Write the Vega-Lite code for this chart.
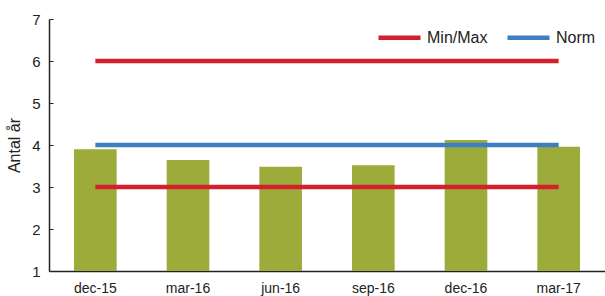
{
  "$schema": "https://vega.github.io/schema/vega-lite/v6.json",
  "width": 556,
  "height": 252,
  "autosize": {"type": "none"},
  "padding": {"left": 49, "top": 19, "right": 0, "bottom": 25},
  "background": "white",
  "config": {
    "font": "Liberation Sans",
    "view": {"stroke": null},
    "axis": {"labelFont": "Liberation Sans", "titleFont": "Liberation Sans", "labelColor": "#222", "titleColor": "#222", "domainColor": "#222", "tickColor": "#222"}
  },
  "datasets": {
    "bars": [
      {"period": "dec-15", "value": 3.9},
      {"period": "mar-16", "value": 3.64},
      {"period": "jun-16", "value": 3.48},
      {"period": "sep-16", "value": 3.52},
      {"period": "dec-16", "value": 4.12},
      {"period": "mar-17", "value": 3.96}
    ],
    "lines": [
      {"period": "dec-15", "value": 6, "series": "Min/Max", "line": "max"},
      {"period": "mar-16", "value": 6, "series": "Min/Max", "line": "max"},
      {"period": "jun-16", "value": 6, "series": "Min/Max", "line": "max"},
      {"period": "sep-16", "value": 6, "series": "Min/Max", "line": "max"},
      {"period": "dec-16", "value": 6, "series": "Min/Max", "line": "max"},
      {"period": "mar-17", "value": 6, "series": "Min/Max", "line": "max"},
      {"period": "dec-15", "value": 3, "series": "Min/Max", "line": "min"},
      {"period": "mar-16", "value": 3, "series": "Min/Max", "line": "min"},
      {"period": "jun-16", "value": 3, "series": "Min/Max", "line": "min"},
      {"period": "sep-16", "value": 3, "series": "Min/Max", "line": "min"},
      {"period": "dec-16", "value": 3, "series": "Min/Max", "line": "min"},
      {"period": "mar-17", "value": 3, "series": "Min/Max", "line": "min"},
      {"period": "dec-15", "value": 4, "series": "Norm", "line": "norm"},
      {"period": "mar-16", "value": 4, "series": "Norm", "line": "norm"},
      {"period": "jun-16", "value": 4, "series": "Norm", "line": "norm"},
      {"period": "sep-16", "value": 4, "series": "Norm", "line": "norm"},
      {"period": "dec-16", "value": 4, "series": "Norm", "line": "norm"},
      {"period": "mar-17", "value": 4, "series": "Norm", "line": "norm"}
    ]
  },
  "encoding": {
    "x": {
      "field": "period", "type": "nominal", "sort": null,
      "scale": {"domain": ["dec-15", "mar-16", "jun-16", "sep-16", "dec-16", "mar-17"], "paddingInner": 0.54, "paddingOuter": 0.27},
      "axis": {"title": null, "labelAngle": 0, "labelFontSize": 14, "ticks": false, "labelPadding": 10, "domainWidth": 1.5}
    },
    "y": {
      "field": "value", "type": "quantitative",
      "scale": {"domain": [1, 7], "zero": false, "nice": false},
      "axis": {"title": "Antal år", "titleFontSize": 16, "titleFontWeight": "normal", "titlePadding": 9, "labelFontSize": 15, "values": [1,2,3,4,5,6,7], "grid": false, "tickSize": -4, "labelPadding": 13, "domainWidth": 1.5}
    }
  },
  "layer": [
    {
      "data": {"name": "bars"},
      "mark": {"type": "bar", "color": "#9dab3b"},
      "encoding": {"y2": {"datum": 1}}
    },
    {
      "data": {"name": "lines"},
      "mark": {"type": "line", "strokeWidth": 4.5},
      "encoding": {
        "detail": {"field": "line"},
        "color": {
          "field": "series", "type": "nominal",
          "scale": {"domain": ["Min/Max", "Norm"], "range": ["#d4202c", "#3d7fc0"]},
          "legend": {
            "title": null, "orient": "none", "direction": "horizontal",
            "legendX": 327, "legendY": -5,
            "symbolType": "stroke", "symbolSize": 1764, "symbolStrokeWidth": 4.5,
            "labelFontSize": 16, "labelColor": "#222", "columnPadding": 10, "labelOffset": 4
          }
        }
      }
    }
  ]
}
